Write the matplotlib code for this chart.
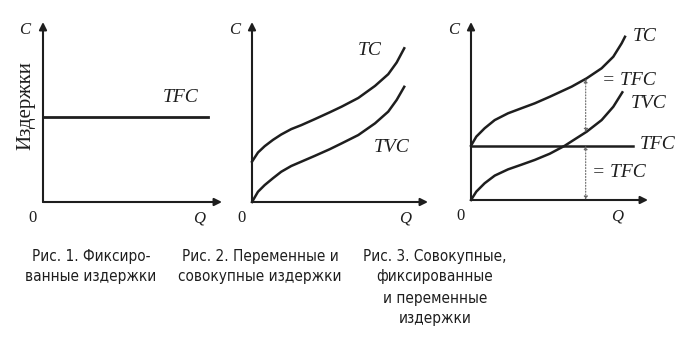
import matplotlib
matplotlib.use("Agg")
import matplotlib.pyplot as plt
import numpy as np
from matplotlib import font_manager

# --- data (Q in units 0..10, C in units 0..10) ---
# Fig. 1: fixed costs
tfc1_q = [0, 9.2]
tfc1_c = [4.7, 4.7]

# Fig. 2: variable and total costs
q2 = [0, 0.34, 0.72, 1.19, 1.66, 2.23, 2.8, 3.56, 4.41, 5.1, 6.04, 6.99, 7.74, 8.22, 8.65]
tvc2_c = [0, 0.57, 0.94, 1.32, 1.68, 2.0, 2.24, 2.56, 2.93, 3.26, 3.72, 4.37, 5.02, 5.67, 6.4]
tc2_c = [2.24, 2.75, 3.1, 3.45, 3.75, 4.05, 4.27, 4.6, 4.98, 5.3, 5.78, 6.45, 7.1, 7.75, 8.54]

# Fig. 3: total, fixed and variable costs
tc3_q = [0, 0.3, 0.77, 1.34, 2.09, 2.84, 3.6, 4.45, 5.69, 6.54, 7.38, 8.04, 8.51, 8.7]
tc3_c = [3.05, 3.56, 4.03, 4.49, 4.87, 5.15, 5.43, 5.8, 6.37, 6.84, 7.4, 8.05, 8.8, 9.17]
tvc3_q = [0, 0.3, 0.77, 1.34, 2.09, 2.84, 3.6, 4.45, 5.3, 5.69, 6.54, 7.38, 8.04, 8.55]
tvc3_c = [0, 0.47, 0.94, 1.37, 1.72, 1.98, 2.25, 2.6, 3.05, 3.3, 3.84, 4.49, 5.24, 6.05]
tfc3_q = [0, 9.15]
tfc3_c = [3.05, 3.05]
gap_q = 6.48

captions = [
    ["Рис. 1. Фиксиро-", "ванные издержки"],
    ["Рис. 2. Переменные и", "совокупные издержки"],
    ["Рис. 3. Совокупные,", "фиксированные", "и переменные", "издержки"],
]

INK = "#1e1e1e"
W, H = 690, 346
serif = "Liberation Serif"

# narrow sans for the captions if there is one, else Lato
narrow = [f for f in font_manager.fontManager.ttflist
          if ("Narrow" in f.fname or "Condensed" in f.fname)
          and f.style == "normal" and f.weight in (400, "normal", "regular")]
if narrow:
    cap_font = dict(fontproperties=font_manager.FontProperties(fname=narrow[0].fname, size=11))
else:
    cap_font = dict(family="Lato", fontsize=11)

fig = plt.figure(figsize=(W / 100, H / 100), dpi=100)

# pixel origin and size of each panel's axes
origins = [(43, 202), (252, 202), (471, 200)]
sizes = [(179, 180), (176, 180), (177, 178)]
q_label_x = [8.7, 8.7, 8.25]
axes = []
for (ox, oy), (pw, ph), qx in zip(origins, sizes, q_label_x):
    ax = fig.add_axes([ox / W, (H - oy) / H, pw / W, ph / H])
    ax.set_xlim(0, 10)
    ax.set_ylim(0, 10)
    ax.axis("off")
    arrow = dict(arrowstyle="-|>", color=INK, lw=1.5, mutation_scale=11,
                 shrinkA=0, shrinkB=0)
    ax.annotate("", xy=(10, 0), xytext=(0, 0), arrowprops=arrow, annotation_clip=False)
    ax.annotate("", xy=(0, 10), xytext=(0, 0), arrowprops=arrow, annotation_clip=False)
    it = dict(family=serif, style="italic", color=INK, fontsize=12,
              ha="center", va="center")
    ax.text(-1.0, 9.55, "C", **it)
    ax.text(qx, -0.9, "Q", **it)
    ax.text(-0.6, -0.9, "0", family=serif, fontsize=12, color=INK,
            ha="center", va="center")
    axes.append(ax)

lab = dict(family=serif, style="italic", color=INK, fontsize=14,
           ha="left", va="center")

# Fig. 1
ax1 = axes[0]
ax1.plot(tfc1_q, tfc1_c, color=INK, lw=2.0, clip_on=False)
ax1.text(6.7, 5.83, "TFC", **lab)
ax1.text(-0.95, 5.35, "Издержки", family=serif, fontsize=15, color=INK,
         rotation=90, ha="center", va="center")

# Fig. 2
ax2 = axes[1]
ax2.plot(q2, tc2_c, color=INK, lw=1.8, clip_on=False, solid_joinstyle="round")
ax2.plot(q2, tvc2_c, color=INK, lw=1.8, clip_on=False, solid_joinstyle="round")
ax2.text(6.0, 8.4, "TC", **lab)
ax2.text(6.9, 3.05, "TVC", **lab)

# Fig. 3
ax3 = axes[2]
ax3.plot(tc3_q, tc3_c, color=INK, lw=1.8, clip_on=False, solid_joinstyle="round")
ax3.plot(tvc3_q, tvc3_c, color=INK, lw=1.8, clip_on=False, solid_joinstyle="round")
ax3.plot(tfc3_q, tfc3_c, color=INK, lw=1.8, clip_on=False)
tc_at = np.interp(gap_q, tc3_q, tc3_c)
tvc_at = np.interp(gap_q, tvc3_q, tvc3_c)
gap = dict(arrowstyle="<|-|>", color="#666666", lw=0.8, linestyle=":",
           mutation_scale=5, shrinkA=0, shrinkB=0)
ax3.annotate("", xy=(gap_q, tvc_at), xytext=(gap_q, tc_at), arrowprops=gap)
ax3.annotate("", xy=(gap_q, 0), xytext=(gap_q, tfc3_c[0]), arrowprops=gap)
ax3.text(9.15, 9.2, "TC", **lab)
ax3.text(7.38, 6.74, "= TFC", **lab)
ax3.text(9.04, 5.4, "TVC", **lab)
ax3.text(9.55, 3.1, "TFC", **lab)
ax3.text(6.82, 1.52, "= TFC", **lab)

# captions
cap_x = [91, 260, 435]
line_y = [257, 277, 298, 318]
for cx, lines in zip(cap_x, captions):
    for ly, line in zip(line_y, lines):
        fig.text(cx / W, 1 - ly / H, line, color=INK, ha="center", va="center",
                 **cap_font)

fig.savefig("out.png", dpi=100)
